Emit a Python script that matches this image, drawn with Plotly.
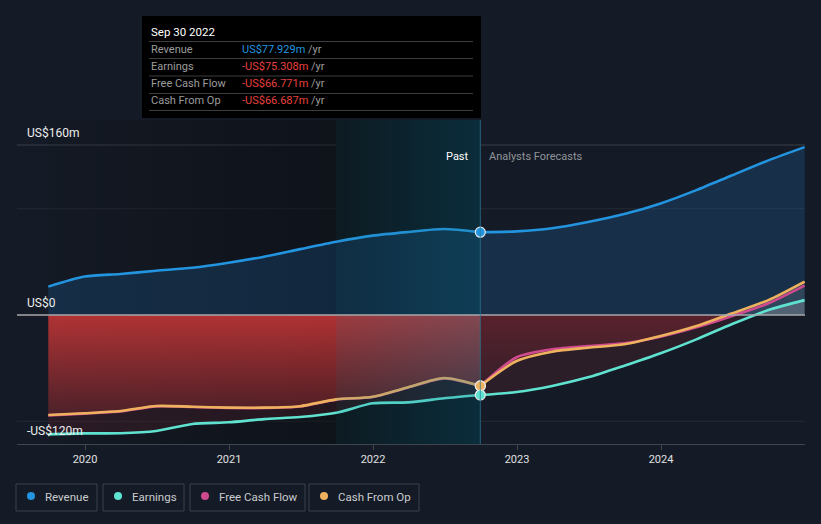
import datetime as dt
import plotly.graph_objects as go

# ---------------- data (US$ millions) ----------------
past_dates = ["2019-09-30", "2019-12-31", "2020-03-31", "2020-06-30", "2020-09-30",
              "2020-12-31", "2021-03-31", "2021-06-30", "2021-09-30", "2021-12-31",
              "2022-03-31", "2022-06-30", "2022-09-30"]
fc_dates = ["2022-09-30", "2022-12-31", "2023-03-31", "2023-06-30", "2023-09-30",
            "2023-12-31", "2024-03-31", "2024-06-30", "2024-09-30", "2024-12-31"]

revenue_past = [26.7, 36.2, 38.6, 41.7, 44.5, 49.2, 54.9, 62.0, 69.0, 74.7, 78.1, 80.9, 77.929]
revenue_fc = [77.929, 78.7, 81.6, 87.5, 95.0, 105.0, 117.5, 131.5, 145.5, 158.0]

earnings_past = [-112.3, -111.4, -111.3, -109.2, -102.6, -101.0, -98.0, -96.0, -92.0, -83.1, -82.2, -78.4, -75.308]
earnings_fc = [-75.308, -72.5, -66.8, -58.7, -47.7, -36.0, -22.9, -8.5, 4.7, 14.0]

fcf_past = [-94.5, -92.8, -90.7, -86.0, -86.6, -87.5, -87.5, -86.1, -79.7, -77.2, -68.3, -59.6, -66.771]
fcf_fc = [-66.771, -39.8, -32.3, -29.2, -26.7, -20.4, -11.6, -0.9, 11.0, 27.7]

cfo_past = [-94.1, -92.5, -90.4, -85.6, -86.3, -87.2, -87.2, -85.8, -79.4, -76.9, -68.0, -59.3, -66.687]
cfo_fc = [-66.687, -43.3, -34.5, -30.8, -27.6, -19.8, -10.4, 1.6, 14.0, 31.4]

year_ticks = [2020, 2021, 2022, 2023, 2024]
band_start = "2021-09-30"
tooltip_date = "Sep 30 2022"
tooltip_rows = [("Revenue", "US$77.929m", "#2394df"),
                ("Earnings", "-US$75.308m", "#e8413e"),
                ("Free Cash Flow", "-US$66.771m", "#e8413e"),
                ("Cash From Op", "-US$66.687m", "#e8413e")]
y_labels = [(160, "US$160m"), (0, "US$0"), (-120, "-US$120m")]

# ---------------- styling ----------------
BG = "#151b26"
C_REV = "#2394df"
C_EARN = "#5fe3d0"
C_FCF = "#cf4a8e"
C_CFO = "#eeb25e"

W, H = 821, 524
L, R, T, B = 17, 805, 120, 444
Y_MIN, Y_MAX = -121.4, 183.5


def dy(s):
    d = dt.date.fromisoformat(s)
    a = dt.date(d.year, 1, 1)
    b = dt.date(d.year + 1, 1, 1)
    return d.year + (d - a).days / (b - a).days


def px(xp):
    return (xp - L) / (R - L)


def py(yp):
    return (B - yp) / (B - T)


xp = [dy(d) for d in past_dates]
xf = [dy(d) for d in fc_dates]
X_MIN = 2020 + (L - 85) / 144.0
X_MAX = 2025.0
x_now = xp[-1]
x_band = dy(band_start)

fig = go.Figure()

# past region darkening
fig.add_trace(go.Scatter(
    x=[xp[0], x_band, x_band, xp[0], xp[0]],
    y=[Y_MAX, Y_MAX, Y_MIN, Y_MIN, Y_MAX],
    mode="none", fill="toself", hoverinfo="skip", showlegend=False,
    fillgradient=dict(type="horizontal", start=xp[0], stop=x_band,
                      colorscale=[[0, "rgba(0,0,0,0.08)"], [1, "rgba(0,0,0,0.32)"]])))
# highlighted last-year band (dark base under the data)
fig.add_trace(go.Scatter(
    x=[x_band, x_now, x_now, x_band, x_band],
    y=[Y_MAX, Y_MAX, Y_MIN, Y_MIN, Y_MAX],
    mode="none", fill="toself", hoverinfo="skip", showlegend=False,
    fillgradient=dict(type="horizontal", start=x_band, stop=x_now,
                      colorscale=[[0, "rgb(11,13,17)"], [1, "rgb(4,10,18)"]])))

SPL = dict(shape="spline", smoothing=0.7)

# revenue fill
fig.add_trace(go.Scatter(x=xp + xf[1:], y=revenue_past + revenue_fc[1:], mode="none",
                         fill="tozeroy", fillcolor="rgba(33,150,243,0.17)",
                         line=SPL, hoverinfo="skip", showlegend=False))
# earnings fills
fig.add_trace(go.Scatter(x=xp, y=earnings_past, mode="none", fill="tozeroy",
                         fillcolor="rgba(190,50,60,0.13)", line=SPL,
                         hoverinfo="skip", showlegend=False))
fig.add_trace(go.Scatter(x=xf, y=earnings_fc, mode="none", fill="tozeroy", line=SPL,
                         hoverinfo="skip", showlegend=False,
                         fillgradient=dict(type="vertical", start=-80, stop=20,
                                           colorscale=[[0, "rgba(190,50,60,0.13)"],
                                                       [0.799, "rgba(190,50,60,0.13)"],
                                                       [0.8, "rgba(200,200,205,0.22)"],
                                                       [1, "rgba(200,200,205,0.22)"]])))
# cash from op fills
fig.add_trace(go.Scatter(x=xp, y=cfo_past, mode="none", fill="tozeroy", line=SPL,
                         hoverinfo="skip", showlegend=False,
                         fillgradient=dict(type="vertical", start=-95, stop=0,
                                           colorscale=[[0, "rgba(200,55,55,0.22)"],
                                                       [1, "rgba(200,55,55,0.85)"]])))
fig.add_trace(go.Scatter(x=xf, y=cfo_fc, mode="none", fill="tozeroy", line=SPL,
                         hoverinfo="skip", showlegend=False,
                         fillgradient=dict(type="vertical", start=-70, stop=35,
                                           colorscale=[[0, "rgba(170,40,50,0.08)"],
                                                       [0.666, "rgba(170,40,50,0.36)"],
                                                       [0.667, "rgba(200,200,205,0.14)"],
                                                       [1, "rgba(200,200,205,0.14)"]])))

# lines
for xs, ys, c in [(xp, revenue_past, C_REV), (xf, revenue_fc, C_REV),
                  (xp, earnings_past, C_EARN), (xf, earnings_fc, C_EARN),
                  (xp, fcf_past, C_FCF), (xf, fcf_fc, C_FCF),
                  (xp, cfo_past, C_CFO), (xf, cfo_fc, C_CFO)]:
    fig.add_trace(go.Scatter(x=xs, y=ys, mode="lines",
                             line=dict(color=c, width=2.6, **SPL),
                             hoverinfo="skip", showlegend=False))

# band overlay (teal tint over everything inside the past-year band)
fig.add_trace(go.Scatter(
    x=[x_band, x_now, x_now, x_band, x_band],
    y=[Y_MAX, Y_MAX, Y_MIN, Y_MIN, Y_MAX],
    mode="none", fill="toself", hoverinfo="skip", showlegend=False,
    fillgradient=dict(type="horizontal", start=x_band, stop=x_now,
                      colorscale=[[0, "rgba(27,126,155,0.12)"], [1, "rgba(27,126,155,0.30)"]])))

# current-point markers
for ys, c in [(fcf_past, C_FCF), (cfo_past, C_CFO), (earnings_past, C_EARN), (revenue_past, C_REV)]:
    fig.add_trace(go.Scatter(x=[xp[-1]], y=[ys[-1]], mode="markers",
                             marker=dict(size=10, color=c, line=dict(color="#e8e8e8", width=1.2)),
                             hoverinfo="skip", showlegend=False))

shapes = []
# gridlines
for val, col in [(160, "#3a3f48"), (100, "#252a33"), (-100, "#252a33")]:
    shapes.append(dict(type="line", xref="paper", x0=0, x1=1, yref="y", y0=val, y1=val,
                       line=dict(color=col, width=1), layer="below"))
# zero line
shapes.append(dict(type="line", xref="paper", x0=0, x1=1, yref="y", y0=0, y1=0,
                   line=dict(color="#a9a9ad", width=1.5), layer="above"))
# "now" vertical line
shapes.append(dict(type="line", xref="x", x0=x_now, x1=x_now, yref="paper", y0=0, y1=1,
                   line=dict(color="rgba(40,120,150,0.75)", width=1), layer="above"))

annotations = []
for v, t in y_labels:
    annotations.append(dict(xref="paper", yref="y", x=px(25), y=v, text=t, showarrow=False,
                            xanchor="left", yanchor="bottom", yshift=3,
                            font=dict(size=12, color="#eeeeee")))
annotations.append(dict(xref="x", yref="paper", x=x_now, y=py(156), text="Past", showarrow=False,
                        xanchor="right", yanchor="middle", xshift=-9,
                        font=dict(size=11, color="#ffffff")))
annotations.append(dict(xref="x", yref="paper", x=x_now, y=py(156), text="Analysts Forecasts",
                        showarrow=False, xanchor="left", yanchor="middle", xshift=7,
                        font=dict(size=11, color="#8f9399")))

# tooltip box
shapes.append(dict(type="rect", xref="paper", yref="paper", x0=px(142), x1=px(481),
                   y0=py(118), y1=py(16), fillcolor="#000000", line=dict(width=0), layer="above"))
for yl in [41.5, 58.5, 76, 93.5, 110.5]:
    shapes.append(dict(type="line", xref="paper", yref="paper", x0=px(149), x1=px(473),
                       y0=py(yl), y1=py(yl), line=dict(color="#3d3d3d", width=1), layer="above"))
annotations.append(dict(xref="paper", yref="paper", x=px(149), y=py(31.5), text=tooltip_date,
                        showarrow=False, xanchor="left", yanchor="middle",
                        font=dict(size=11.5, color="#ffffff")))
for i, (lab, val, col) in enumerate(tooltip_rows):
    yc = [49.5, 66.5, 84, 101][i]
    annotations.append(dict(xref="paper", yref="paper", x=px(149), y=py(yc), text=lab,
                            showarrow=False, xanchor="left", yanchor="middle",
                            font=dict(size=11, color="#9c9c9c")))
    annotations.append(dict(xref="paper", yref="paper", x=px(240), y=py(yc),
                            text=f"<span style='color:{col}'>{val}</span> <span style='color:#9c9c9c'>/yr</span>",
                            showarrow=False, xanchor="left", yanchor="middle",
                            font=dict(size=11, color="#9c9c9c")))

# custom legend
legend_items = [("Revenue", C_REV, 16, 97), ("Earnings", C_EARN, 103, 184),
                ("Free Cash Flow", C_FCF, 190, 305), ("Cash From Op", C_CFO, 309, 419)]
for name, col, x0, x1 in legend_items:
    shapes.append(dict(type="rect", xref="paper", yref="paper", x0=px(x0), x1=px(x1),
                       y0=py(511), y1=py(484), line=dict(color="#3d434c", width=1),
                       fillcolor="rgba(0,0,0,0)"))
    shapes.append(dict(type="circle", xref="paper", yref="paper", x0=px(x0 + 11), x1=px(x0 + 19),
                       y0=py(500), y1=py(492), fillcolor=col, line=dict(width=0)))
    annotations.append(dict(xref="paper", yref="paper", x=px(x0 + 27), y=py(496.5), text=name,
                            showarrow=False, xanchor="left", yanchor="middle",
                            font=dict(size=11.5, color="#c9cbce")))

fig.update_layout(
    width=W, height=H,
    margin=dict(l=L, r=W - R, t=T, b=H - B),
    paper_bgcolor=BG, plot_bgcolor=BG,
    font=dict(family="Roboto, Open Sans, sans-serif", color="#dddddd"),
    showlegend=False,
    shapes=shapes, annotations=annotations,
    xaxis=dict(range=[X_MIN, X_MAX], tickvals=year_ticks, ticktext=[str(v) for v in year_ticks],
               showgrid=False, zeroline=False, showline=True, linecolor="#40464e", linewidth=1,
               ticks="outside", ticklen=5, tickcolor="#40464e",
               tickfont=dict(size=11, color="#e0e0e0"), fixedrange=True),
    yaxis=dict(range=[Y_MIN, Y_MAX], showgrid=False, zeroline=False, showticklabels=False,
               fixedrange=True),
)

fig.write_html("out.html", config={"displayModeBar": False},
               post_script="document.body.style.margin='0';document.body.style.background='#151b26';")
